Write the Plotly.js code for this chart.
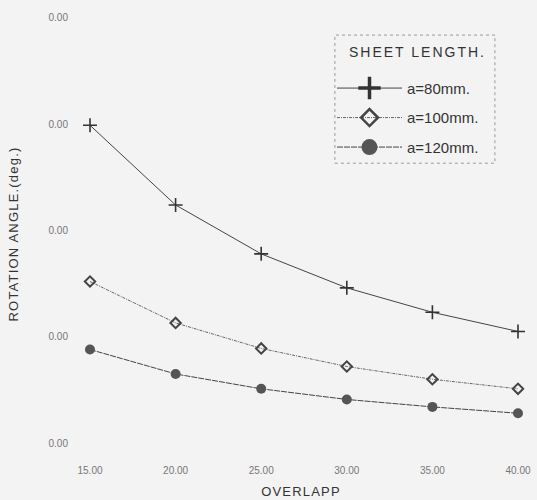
<!DOCTYPE html>
<html>
<head>
<meta charset="utf-8">
<script src="https://cdn.plot.ly/plotly-3.0.1.min.js"></script>
<style>
html,body{margin:0;padding:0;background:#f3f3f3;}#chart{width:537px;height:500px;}
.ytitle,.xtitle{letter-spacing:1.2px;}
.annotation-text{letter-spacing:2px;}
</style>
</head>
<body>
<div id="chart"></div>
<script>
// Overlap values (x)
const overlap = [15, 20, 25, 30, 35, 40];
// Rotation angle readings (y, in tick-interval units; tick labels in source all read "0.00")
const a80 = [29.9, 22.4, 17.8, 14.6, 12.3, 10.5];
const a100 = [15.2, 11.3, 8.9, 7.2, 6.0, 5.1];
const a120 = [8.8, 6.5, 5.1, 4.1, 3.4, 2.8];
const seriesNames = ['a=80mm.', 'a=100mm.', 'a=120mm.'];
const legendTitle = 'SHEET LENGTH.';
const xTickVals = [15, 20, 25, 30, 35, 40];
const xTickText = ['15.00', '20.00', '25.00', '30.00', '35.00', '40.00'];
const yTickVals = [0, 10, 20, 30, 40];
const yTickText = ['0.00', '0.00', '0.00', '0.00', '0.00'];

const styles = [
  {line: {color: '#444', width: 1},
   marker: {symbol: 'cross-thin-open', size: 10, color: '#333', line: {color: '#333', width: 1.6}},
   legMarker: {symbol: 'cross-thin-open', size: 16, color: '#333', line: {color: '#333', width: 3.5}}},
  {line: {color: '#666', width: 1, dash: '3px,1px,1px,1px'},
   marker: {symbol: 'diamond-open', size: 8, color: '#444', line: {color: '#444', width: 2}},
   legMarker: {symbol: 'diamond-open', size: 13, color: '#444', line: {color: '#444', width: 2.5}}},
  {line: {color: '#444', width: 1, dash: '6px,1px'},
   marker: {symbol: 'circle', size: 10, color: '#555'},
   legMarker: {symbol: 'circle', size: 16, color: '#555'}}
];
const ys = [a80, a100, a120];

const traces = [];
ys.forEach((y, i) => {
  traces.push({x: overlap, y: y, name: seriesNames[i], mode: 'lines+markers', showlegend: false,
    line: styles[i].line, marker: styles[i].marker});
});
ys.forEach((y, i) => {
  traces.push({x: [null], y: [null], name: seriesNames[i], legendgroup: 'g' + i, mode: 'lines+markers',
    line: styles[i].line, marker: styles[i].legMarker});
});

const layout = {
  width: 537, height: 500,
  margin: {l: 75, r: 10, t: 10, b: 42},
  paper_bgcolor: '#f3f3f3', plot_bgcolor: '#f3f3f3',
  font: {family: 'Liberation Sans, Arial, sans-serif', color: '#333'},
  showlegend: true,
  xaxis: {
    range: [14.124, 40.526], tickvals: xTickVals, ticktext: xTickText,
    showgrid: false, zeroline: false, showline: false, ticks: '',
    tickfont: {size: 10, color: '#777'}, ticklabelstandoff: 5,
    title: {text: 'OVERLAPP', font: {size: 13, color: '#333'}, standoff: 11}
  },
  yaxis: {
    range: [-1.41, 40.75], tickvals: yTickVals, ticktext: yTickText,
    showgrid: false, zeroline: false, showline: false, ticks: '',
    tickfont: {size: 10, color: '#777'}, ticklabelstandoff: 6,
    title: {text: 'ROTATION ANGLE.(deg.)', font: {size: 13, color: '#333'}, standoff: 26}
  },
  legend: {
    x: 0.5686, y: 0.862, xanchor: 'left', yanchor: 'top',
    bgcolor: 'rgba(0,0,0,0)', borderwidth: 0,
    font: {size: 15, color: '#333'},
    tracegroupgap: 7, itemwidth: 65
  },
  annotations: [{text: legendTitle, xref: 'paper', yref: 'paper', x: 0.757, y: 0.906,
    xanchor: 'center', yanchor: 'middle', showarrow: false, font: {size: 14, color: '#333'}}],
  shapes: [{type: 'rect', xref: 'paper', yref: 'paper', x0: 0.575, x1: 0.929, y0: 0.658, y1: 0.944,
    line: {color: '#999', width: 1, dash: 'dot'}}]
};

Plotly.newPlot('chart', traces, layout, {displayModeBar: false, staticPlot: true});
</script>
</body>
</html>
